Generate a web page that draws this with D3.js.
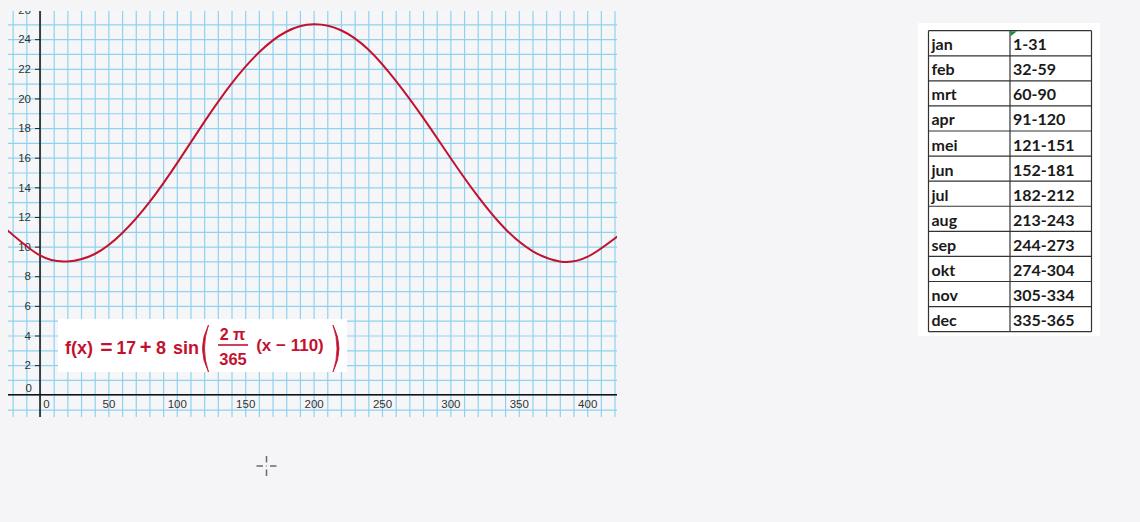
<!DOCTYPE html>
<html>
<head>
<meta charset="utf-8">
<script src="https://cdn.jsdelivr.net/npm/d3@7"></script>
<style>
  html, body { margin: 0; padding: 0; background: #f5f5f7; }
  svg { display: block; }
</style>
</head>
<body>
<svg id="chart" width="1140" height="522"></svg>
<script>
// ---------- data ----------
const xTickLabels = [0, 50, 100, 150, 200, 250, 300, 350, 400];
const yTickLabels = [0, 2, 4, 6, 8, 10, 12, 14, 16, 18, 20, 22, 24, 26];
// points (day, temperature)
const curveX = [-25, 0, 20, 40, 60, 80, 100, 120, 140, 160, 180, 200, 220, 240, 260, 280, 300, 320, 340, 360, 380, 400, 425];
const curveY = [11.2, 9.4, 9.0, 9.5, 10.9, 13.0, 15.6, 18.4, 21.0, 23.1, 24.5, 25.0, 24.6, 23.3, 21.2, 18.7, 16.0, 13.4, 11.2, 9.7, 9.0, 9.3, 10.9];
const months = ["jan", "feb", "mrt", "apr", "mei", "jun", "jul", "aug", "sep", "okt", "nov", "dec"];
const dayRanges = ["1-31", "32-59", "60-90", "91-120", "121-151", "152-181", "182-212", "213-243", "244-273", "274-304", "305-334", "335-365"];

// ---------- layout ----------
const svg = d3.select("#chart");
const view = { left: 8, right: 617, top: 11, bottom: 417 };
const x = d3.scaleLinear().domain([-23.4, 421.8]).range([view.left, view.right]);
const y = d3.scaleLinear().domain([-1.5, 25.9]).range([view.bottom, view.top]);
const gridColor = "#8fd2ee";
const red = "#c3122f";

svg.append("defs").append("clipPath").attr("id", "clipView")
  .append("rect")
  .attr("x", view.left).attr("y", view.top)
  .attr("width", view.right - view.left).attr("height", view.bottom - view.top);

const g = svg.append("g").attr("clip-path", "url(#clipView)");

g.append("rect")
  .attr("x", view.left).attr("y", view.top)
  .attr("width", view.right - view.left).attr("height", view.bottom - view.top)
  .attr("fill", "#f6f6f8");

// grid lines via axes
const gridV = g.append("g")
  .attr("transform", `translate(0,${view.bottom})`)
  .call(d3.axisBottom(x).tickValues(d3.range(-20, 430, 10)).tickSize(-(view.bottom - view.top)).tickFormat(""));
gridV.select(".domain").remove();
gridV.selectAll("line").attr("stroke", gridColor).attr("stroke-width", 1.2);

const gridH = g.append("g")
  .attr("transform", `translate(${view.left},0)`)
  .call(d3.axisLeft(y).tickValues(d3.range(-1, 27, 1)).tickSize(-(view.right - view.left)).tickFormat(""));
gridH.select(".domain").remove();
gridH.selectAll("line").attr("stroke", gridColor).attr("stroke-width", 1.2);

// axis lines
g.append("line").attr("x1", view.left).attr("x2", view.right)
  .attr("y1", y(0)).attr("y2", y(0)).attr("stroke", "#111").attr("stroke-width", 1.5);
g.append("line").attr("x1", x(0)).attr("x2", x(0))
  .attr("y1", view.top).attr("y2", view.bottom).attr("stroke", "#111").attr("stroke-width", 1.5);

// y axis ticks + labels
const yAx = g.append("g")
  .attr("transform", `translate(${x(0)},0)`)
  .call(d3.axisLeft(y).tickValues(yTickLabels).tickSize(5).tickPadding(4));
yAx.select(".domain").remove();
yAx.selectAll("line").attr("stroke", "#222").attr("stroke-width", 1);
yAx.selectAll("text")
  .attr("font-family", "'Liberation Sans', Arial, sans-serif")
  .attr("font-size", 11.5).attr("fill", "#333");
yAx.selectAll(".tick").filter(d => d === 0).select("text").attr("dy", "-0.25em").attr("x", -8);
yAx.selectAll(".tick").filter(d => d === 0).select("line").remove();

// x axis labels
const xAx = g.append("g")
  .attr("transform", `translate(0,${y(0)})`)
  .call(d3.axisBottom(x).tickValues(xTickLabels).tickSize(0).tickPadding(5));
xAx.select(".domain").remove();
xAx.selectAll("text")
  .attr("font-family", "'Liberation Sans', Arial, sans-serif")
  .attr("font-size", 11.5).attr("fill", "#333");
xAx.selectAll(".tick").filter(d => d === 0).select("text").attr("x", 6);

// curve
const pts = curveX.map((d, i) => [d, curveY[i]]);
g.append("path")
  .datum(pts)
  .attr("fill", "none")
  .attr("stroke", red)
  .attr("stroke-width", 2)
  .attr("d", d3.line().x(d => x(d[0])).y(d => y(d[1])).curve(d3.curveNatural));

// formula box
const fb = svg.append("g");
fb.append("rect").attr("x", 58).attr("y", 319).attr("width", 289).attr("height", 53).attr("fill", "#ffffff");
const ff = "'Liberation Sans', Arial, sans-serif";
function ftext(tx, ty, s, size, anchor) {
  fb.append("text").attr("x", tx).attr("y", ty).text(s)
    .attr("font-family", ff).attr("font-weight", "bold").attr("font-size", size)
    .attr("fill", red).attr("text-anchor", anchor || "start");
}
ftext(65, 354, "f(x)", 18);
ftext(106.5, 354, "=", 21, "middle");
ftext(116.5, 354, "17", 17.5);
ftext(145.5, 354, "+", 20, "middle");
ftext(156, 354, "8", 18);
ftext(173, 354, "sin", 18);
ftext(232.5, 340, "2 π", 16, "middle");
fb.append("line").attr("x1", 218).attr("x2", 248).attr("y1", 345).attr("y2", 345)
  .attr("stroke", red).attr("stroke-width", 1.6);
ftext(233, 364.5, "365", 16.5, "middle");
ftext(290, 350.5, "(x − 110)", 17, "middle");
fb.append("path").attr("d", "M 208.5 325 Q 196.5 348.5 208.5 372 Q 200.5 348.5 208.5 325 Z")
  .attr("fill", red).attr("stroke", red).attr("stroke-width", 0.8);
fb.append("path").attr("d", "M 333 325 Q 345 348.5 333 372 Q 341 348.5 333 325 Z")
  .attr("fill", red).attr("stroke", red).attr("stroke-width", 0.8);

// table
const tb = svg.append("g");
tb.append("rect").attr("x", 918).attr("y", 23).attr("width", 182).attr("height", 313).attr("fill", "#ffffff");
const tLeft = 928.5, tMid = 1010, tRight = 1091.5, tTop = 30.7, rowH = 25.08;
const rowY = d3.scaleLinear().domain([0, months.length]).range([tTop, tTop + rowH * months.length]);
months.forEach((m, i) => {
  tb.append("text").attr("x", tLeft + 3).attr("y", rowY(i) + 19.5).text(m)
    .attr("font-family", "Lato, 'Open Sans', sans-serif").attr("font-weight", "bold")
    .attr("font-size", 16).attr("fill", "#1a1a1a");
  tb.append("text").attr("x", tMid + 3).attr("y", rowY(i) + 19.5).text(dayRanges[i])
    .attr("font-family", "Lato, 'Open Sans', sans-serif").attr("font-weight", "bold")
    .attr("font-size", 16).attr("fill", "#1a1a1a");
});
d3.range(months.length + 1).forEach(i => {
  tb.append("line").attr("x1", tLeft).attr("x2", tRight).attr("y1", rowY(i)).attr("y2", rowY(i))
    .attr("stroke", "#333").attr("stroke-width", 1.2);
});
[tLeft, tMid, tRight].forEach(cx => {
  tb.append("line").attr("x1", cx).attr("x2", cx).attr("y1", rowY(0)).attr("y2", rowY(months.length))
    .attr("stroke", "#333").attr("stroke-width", 1.2);
});
tb.append("path").attr("d", `M ${tMid + 0.6} ${tTop + 0.6} L ${tMid + 7} ${tTop + 0.6} L ${tMid + 0.6} ${tTop + 5.5} Z`)
  .attr("fill", "#1e8a3c");

// cursor crosshair
const cx0 = 266.5, cy0 = 466;
const cur = svg.append("g").attr("stroke", "#6a6a6a").attr("stroke-width", 1.5);
cur.append("line").attr("x1", cx0).attr("x2", cx0).attr("y1", cy0 - 10).attr("y2", cy0 - 3.5);
cur.append("line").attr("x1", cx0).attr("x2", cx0).attr("y1", cy0 + 3.5).attr("y2", cy0 + 10);
cur.append("line").attr("x1", cx0 - 10).attr("x2", cx0 - 3.5).attr("y1", cy0).attr("y2", cy0);
cur.append("line").attr("x1", cx0 + 3.5).attr("x2", cx0 + 10).attr("y1", cy0).attr("y2", cy0);
svg.append("rect").attr("x", cx0 - 0.75).attr("y", cy0 - 0.75).attr("width", 1.5).attr("height", 1.5).attr("fill", "#aaa");
</script>
</body>
</html>
